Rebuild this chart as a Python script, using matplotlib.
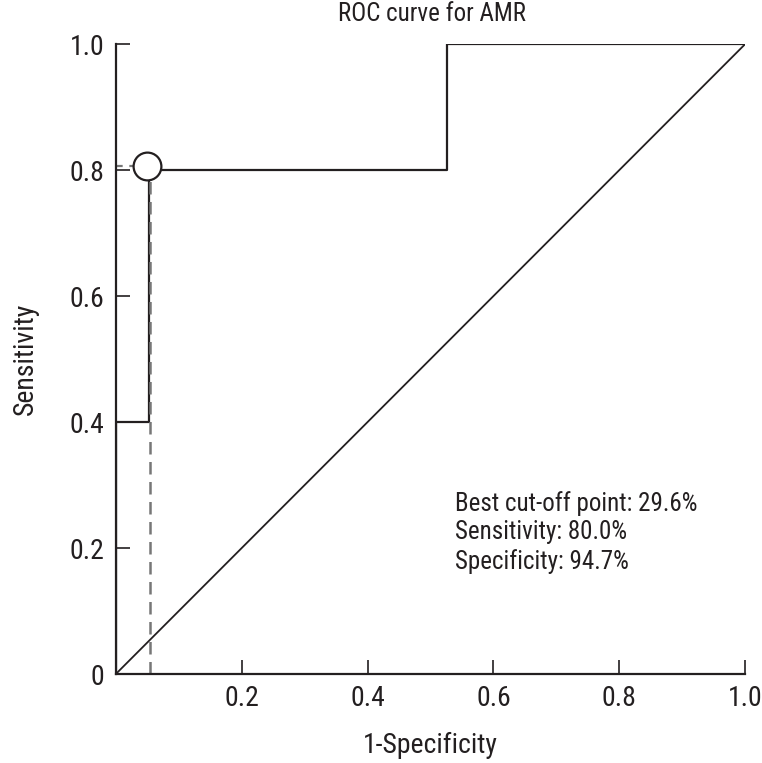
import matplotlib.pyplot as plt
from matplotlib import font_manager

# ROC step curve
fpr = [0, 0, 1/19, 1/19, 10/19, 10/19, 1.0]
tpr = [0, 0.4, 0.4, 0.8, 0.8, 1.0, 1.0]
best_x = 0.05
best_y = 0.807
cut_x = 0.054
info = ["Best cut-off point: 29.6%", "Sensitivity: 80.0%", "Specificity: 94.7%"]
xticks = [0.2, 0.4, 0.6, 0.8, 1.0]
xlabels = ["0.2", "0.4", "0.6", "0.8", "1.0"]
yticks = [0, 0.2, 0.4, 0.6, 0.8, 1.0]
ylabels = ["0", "0.2", "0.4", "0.6", "0.8", "1.0"]

names = {f.name for f in font_manager.fontManager.ttflist}
fam = 'DejaVu Sans'
for cand in ['Roboto Condensed', 'Liberation Sans Narrow', 'Roboto']:
    if cand in names:
        fam = cand
        break
plt.rcParams['font.family'] = [fam, 'DejaVu Sans']

col = "#231f20"
fig = plt.figure(figsize=(7.62, 7.63), dpi=100)
ax = fig.add_axes([0.152, 0.1166, 0.826, 0.8257])

ax.plot([0, 1], [0, 1], color=col, lw=1.3)
ax.plot(fpr, tpr, color=col, lw=1.6)
ax.plot([cut_x, cut_x], [0, best_y - 0.02], color="#777777", lw=1.8, ls=(0, (5, 3)))
ax.plot([0, best_x], [best_y, best_y], color="#777777", lw=1.6, ls=(0, (3, 3)))
ax.plot(best_x, best_y, 'o', ms=20, mfc='white', mec=col, mew=1.6)

for i, t in enumerate(info):
    ax.text(0.539, 0.271 - i * 0.046, t, fontsize=18, color=col, va='center')

ax.set_xlim(0, 1)
ax.set_ylim(0, 1)
ax.set_xticks(xticks, xlabels)
ax.set_yticks(yticks, ylabels)
ax.tick_params(direction='in', length=10, width=1.2, colors=col, labelsize=20, pad=8)
for s in ['top', 'right']:
    ax.spines[s].set_visible(False)
for s in ['left', 'bottom']:
    ax.spines[s].set_linewidth(1.6)
    ax.spines[s].set_color(col)

ax.set_xlabel("1-Specificity", fontsize=20, color=col, labelpad=14)
ax.set_ylabel("Sensitivity", fontsize=20, color=col, labelpad=22)
fig.text(0.567, 0.982, "ROC curve for AMR", fontsize=18, color=col, ha='center', va='center')

fig.savefig("out.png", dpi=100)
